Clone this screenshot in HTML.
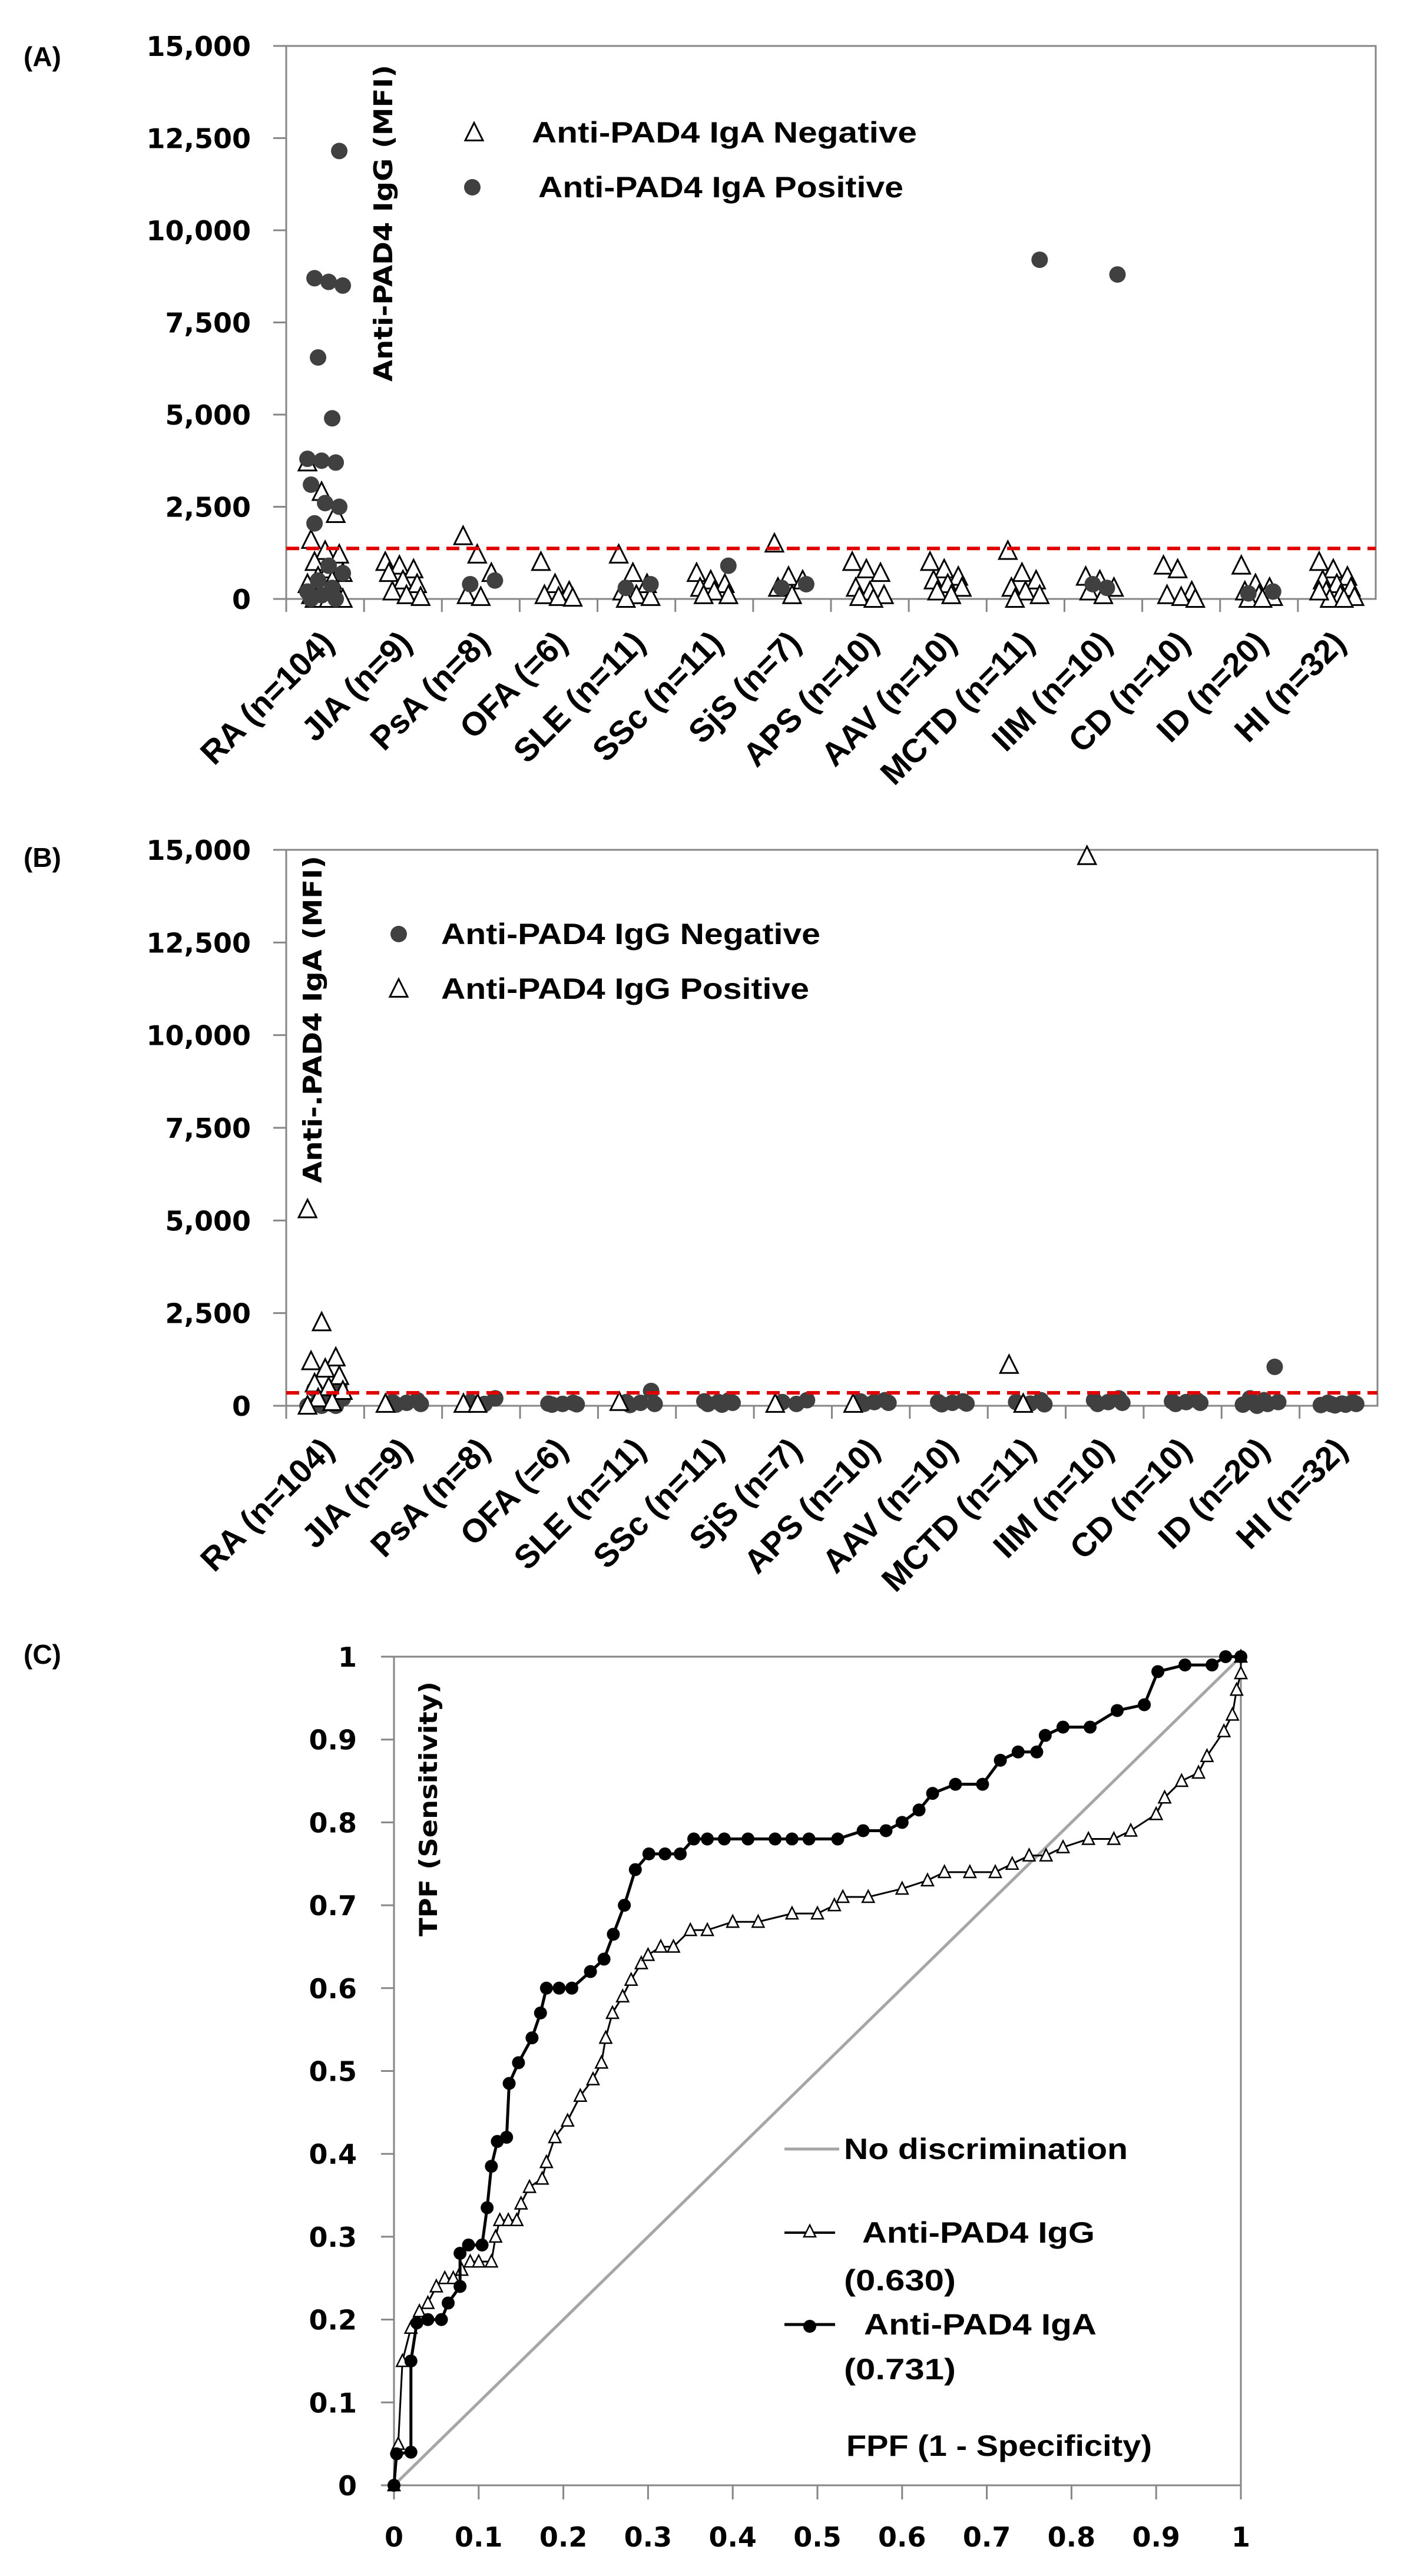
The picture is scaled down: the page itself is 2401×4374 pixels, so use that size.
<!DOCTYPE html>
<html><head><meta charset="utf-8"><style>
html,body{margin:0;padding:0;background:#fff;}
svg{display:block;}
text{font-family:"DejaVu Sans","Liberation Sans",sans-serif;}
.lab{font-family:"Liberation Sans",sans-serif;font-weight:bold;}
</style></head><body>
<svg id="fig" width="2401" height="4374" viewBox="0 0 2401 4374" xmlns="http://www.w3.org/2000/svg"></svg>
<script>
const categories=["RA (n=104)","JIA (n=9)","PsA (n=8)","OFA (=6)","SLE (n=11)","SSc (n=11)","SjS (n=7)","APS (n=10)","AAV (n=10)","MCTD (n=11)","IIM (n=10)","CD (n=10)","ID (n=20)","HI (n=32)"];
const yTicks=[0,2500,5000,7500,10000,12500,15000];
const yTickLabels=["0","2,500","5,000","7,500","10,000","12,500","15,000"];
// Panel A: anti-PAD4 IgG values
const aNeg=[[3700,2900,2300,1600,1300,1200,1000,800,700,600,500,400,300,200,100,50,0,0,0,0],[1000,900,800,700,500,400,200,100,50],[1700,1200,700,100,50],[1000,400,200,100,50,30],[1200,700,400,200,100,50,0],[700,500,400,300,200,100,100],[1500,600,500,300,100],[1000,800,700,300,200,100,50,0],[1000,800,600,500,400,300,200,100],[1300,700,500,300,200,100,0],[600,500,300,200,100],[900,800,200,100,50,0],[900,400,300,200,100,50,0,0],[1000,800,600,500,400,300,200,100,50,0,0,200]];
const aPos=[[12150,8700,8600,8500,6550,4900,3800,3750,3700,3100,2600,2500,2050,900,700,500,300,200,100,0,0],[],[500,400],[],[400,300],[900],[400,300],[],[],[9200],[8800,400,300],[],[200,150],[]];
const aCut=1370;
// Panel B: anti-PAD4 IgA values
const bNeg=[[500,450,300,200,100,50,0,0,0],[150,100,80,50,30],[200,100,50],[80,60,50,40,30],[400,100,80,50,20],[150,120,100,80,50,30],[150,100,50],[150,120,100,80,50],[120,100,80,60,40],[150,100,60,40],[200,150,100,80,50],[150,120,100,80,50],[1050,200,150,100,80,50,30,0],[100,80,60,50,40,30,20,10]];
const bPos=[[5300,2250,1300,1200,1000,800,600,500,400,200,100,0],[50],[50,50],[],[100],[],[50],[50],[],[1100,50],[14830],[],[],[]];
const bCut=350;
// Panel C: ROC curves (FPF, TPF)
const igaFPF=[0,0.003,0.02,0.02,0.027,0.04,0.056,0.064,0.078,0.078,0.088,0.104,0.11,0.115,0.122,0.133,0.136,0.147,0.163,0.173,0.18,0.195,0.21,0.232,0.248,0.259,0.272,0.285,0.301,0.32,0.338,0.354,0.37,0.39,0.418,0.45,0.47,0.49,0.524,0.554,0.581,0.6,0.62,0.636,0.663,0.695,0.716,0.737,0.759,0.769,0.79,0.822,0.854,0.886,0.902,0.934,0.966,0.982,1];
const igaTPF=[0,0.038,0.04,0.15,0.196,0.2,0.2,0.22,0.24,0.28,0.29,0.29,0.335,0.385,0.415,0.42,0.485,0.51,0.54,0.57,0.6,0.6,0.6,0.62,0.635,0.665,0.7,0.743,0.762,0.762,0.762,0.78,0.78,0.78,0.78,0.78,0.78,0.78,0.78,0.79,0.79,0.8,0.815,0.835,0.846,0.846,0.875,0.885,0.885,0.905,0.915,0.915,0.935,0.942,0.982,0.99,0.99,1,1];
const iggFPF=[0,0.005,0.01,0.02,0.03,0.04,0.05,0.06,0.07,0.08,0.09,0.1,0.115,0.12,0.125,0.135,0.145,0.15,0.16,0.175,0.18,0.19,0.205,0.22,0.235,0.245,0.25,0.258,0.27,0.28,0.292,0.3,0.315,0.33,0.35,0.37,0.4,0.43,0.47,0.5,0.52,0.53,0.56,0.6,0.63,0.65,0.68,0.71,0.73,0.75,0.77,0.79,0.82,0.85,0.87,0.9,0.91,0.93,0.95,0.96,0.98,0.99,0.995,1,1];
const iggTPF=[0,0.05,0.15,0.19,0.21,0.22,0.24,0.25,0.25,0.26,0.27,0.27,0.27,0.3,0.32,0.32,0.32,0.34,0.36,0.37,0.39,0.42,0.44,0.47,0.49,0.51,0.54,0.57,0.59,0.61,0.63,0.64,0.65,0.65,0.67,0.67,0.68,0.68,0.69,0.69,0.7,0.71,0.71,0.72,0.73,0.74,0.74,0.74,0.75,0.76,0.76,0.77,0.78,0.78,0.79,0.81,0.83,0.85,0.86,0.88,0.91,0.93,0.96,0.98,1];
const rocTicks=[0,0.1,0.2,0.3,0.4,0.5,0.6,0.7,0.8,0.9,1];
const rocTickLabels=["0","0.1","0.2","0.3","0.4","0.5","0.6","0.7","0.8","0.9","1"];

const NS="http://www.w3.org/2000/svg";
const svg=document.getElementById('fig');
function mk(tag,attrs,parent){const e=document.createElementNS(NS,tag);for(const k in attrs)e.setAttribute(k,attrs[k]);(parent||svg).appendChild(e);return e;}
function txt(str,attrs,parent){const t=mk('text',attrs,parent);t.textContent=str;return t;}
function tri(g,x,y,s,sw){return mk('path',{d:`M${x} ${y-s*0.55}L${x+s*0.5} ${y+s*0.45}L${x-s*0.5} ${y+s*0.45}Z`,fill:'#fff',stroke:'#000','stroke-width':sw},g);}

function scatterPanel(id,L,R,T,B,neg,pos,cut,negIsTri,panelLabel,labelY,title,titleX,titleY1,titleY2,legendItems){
  const g=mk('g',{});
  
  
  const yS=v=>B-(v/15000)*(B-T);
  const cw=(R-L)/categories.length;
  const xC=i=>L+cw*(i+0.5);
  const pl=txt(panelLabel,{x:40,y:labelY,'font-size':46,class:'lab'},g);
  
  
  const fr=mk('rect',{x:L,y:T,width:R-L,height:B-T,fill:'none',stroke:'#868686','stroke-width':3},g);
  
  
  yTicks.forEach((v,i)=>{
    mk('line',{x1:L-22,x2:L,y1:yS(v),y2:yS(v),stroke:'#868686','stroke-width':3},g);
    const t=txt(yTickLabels[i],{x:426,y:yS(v)+17,'text-anchor':'end','font-size':46,'font-weight':'bold'},g);
    
    
  });
  categories.forEach((c,i)=>{
    mk('line',{x1:L+cw*i,x2:L+cw*i,y1:B,y2:B+22,stroke:'#868686','stroke-width':3},g);
    const cx=xC(i)+18, cy=B+78;
    const t=txt(c,{x:cx,y:cy,'text-anchor':'end','font-size':56,class:'lab',transform:`rotate(-45 ${cx} ${cy})`},g);
    
    
  });
  const jit=k=>(((k*37)%11)-5)*6;
  function drawSet(vals,isTri){
    vals.forEach((arr,i)=>{arr.forEach((v,k)=>{
      const x=xC(i)+jit(k+(isTri?0:5)), y=yS(v);
      let m;
      if(isTri){m=tri(g,x,y,30,3);}
      else{m=mk('circle',{cx:x,cy:y,r:14,fill:'#404040'},g);}
      
      
    });});
  }
  if(negIsTri){drawSet(neg,true);drawSet(pos,false);}else{drawSet(neg,false);drawSet(pos,true);}
  const cl=mk('line',{x1:L,x2:R,y1:yS(cut),y2:yS(cut),stroke:'#e00000','stroke-width':6,'stroke-dasharray':'22 12'},g);
  
  
  const tt=txt(title,{x:titleX,y:titleY2,'font-size':44,'font-weight':'bold',textLength:titleY2-titleY1,lengthAdjust:'spacingAndGlyphs',transform:`rotate(-90 ${titleX} ${titleY2})`},g);
  
  
  legendItems.forEach(it=>{
    let m;
    if(it.tri){m=tri(g,it.mx,it.my,30,3);}else{m=mk('circle',{cx:it.mx,cy:it.my,r:14,fill:'#404040'},g);}
    
    
    const t=txt(it.text,{x:it.tx,y:it.my+17,'font-size':50,class:'lab',textLength:it.tw,lengthAdjust:'spacingAndGlyphs'},g);
    
    
  });
}

scatterPanel('panel-a-scatter',486,2336,78,1017,aNeg,aPos,aCut,true,'(A)',112,'Anti-PAD4 IgG (MFI)',666,110,648,
 [{tri:true,mx:805,my:225,text:'Anti-PAD4 IgA Negative',tx:903,tw:654},{tri:false,mx:802,my:318,text:'Anti-PAD4 IgA Positive',tx:914,tw:620}]);
scatterPanel('panel-b-scatter',486,2339,1443,2387,bNeg,bPos,bCut,false,'(B)',1472,'Anti-.PAD4 IgA (MFI)',546,1453,2009,
 [{tri:false,mx:677,my:1586,text:'Anti-PAD4 IgG Negative',tx:749,tw:644},{tri:true,mx:677,my:1679,text:'Anti-PAD4 IgG Positive',tx:749,tw:625}]);

(function(){
  const L=669,R=2107,T=2813,B=4220;
  const g=mk('g',{});
  
  
  const xS=v=>L+v*(R-L), yS=v=>B-v*(B-T);
  const pl=txt('(C)',{x:40,y:2825,'font-size':46,class:'lab'},g);
  
  
  const fr=mk('rect',{x:L,y:T,width:R-L,height:B-T,fill:'none',stroke:'#868686','stroke-width':3},g);
  
  
  rocTicks.forEach((v,i)=>{
    mk('line',{x1:L-22,x2:L,y1:yS(v),y2:yS(v),stroke:'#868686','stroke-width':3},g);
    mk('line',{x1:xS(v),x2:xS(v),y1:B,y2:B+24,stroke:'#868686','stroke-width':3},g);
    const t=txt(rocTickLabels[i],{x:606,y:yS(v)+17,'text-anchor':'end','font-size':46,'font-weight':'bold'},g);
    
    
    const t2=txt(rocTickLabels[i],{x:xS(v),y:4324,'text-anchor':'middle','font-size':46,'font-weight':'bold'},g);
    
    
  });
  const d=mk('line',{x1:xS(0),y1:yS(0),x2:xS(1),y2:yS(1),stroke:'#a6a6a6','stroke-width':5},g);
  
  
  const gl=mk('polyline',{points:iggFPF.map((x,i)=>xS(x)+','+yS(iggTPF[i])).join(' '),fill:'none',stroke:'#000','stroke-width':3},g);
  
  
  iggFPF.forEach((x,i)=>{const m=tri(g,xS(x),yS(iggTPF[i]),20,2.5);
    
    });
  const al=mk('polyline',{points:igaFPF.map((x,i)=>xS(x)+','+yS(igaTPF[i])).join(' '),fill:'none',stroke:'#000','stroke-width':5},g);
  
  
  igaFPF.forEach((x,i)=>{const m=mk('circle',{cx:xS(x),cy:yS(igaTPF[i]),r:11,fill:'#000'},g);
    
    });
  const yt=txt('TPF (Sensitivity)',{x:742,y:3288,'font-size':42,'font-weight':'bold',textLength:433,lengthAdjust:'spacingAndGlyphs',transform:'rotate(-90 742 3288)'},g);
  
  
  const xt=txt('FPF (1 - Specificity)',{x:1437,y:4170,'font-size':50,class:'lab',textLength:519,lengthAdjust:'spacingAndGlyphs'},g);
  
  
  const l1=mk('line',{x1:1332,x2:1425,y1:3649,y2:3649,stroke:'#a6a6a6','stroke-width':5},g);
  
  
  const t1=txt('No discrimination',{x:1433,y:3666,'font-size':50,class:'lab',textLength:482,lengthAdjust:'spacingAndGlyphs'},g);
  
  
  const l2=mk('line',{x1:1332,x2:1418,y1:3791,y2:3791,stroke:'#000','stroke-width':4},g);
  
  
  const m2=tri(g,1375,3789,20,2.5);
  
  
  const t2=txt('Anti-PAD4 IgG',{x:1464,y:3808,'font-size':50,class:'lab',textLength:395,lengthAdjust:'spacingAndGlyphs'},g);
  
  
  const t3=txt('(0.630)',{x:1433,y:3889,'font-size':50,class:'lab',textLength:190,lengthAdjust:'spacingAndGlyphs'},g);
  
  
  const l3=mk('line',{x1:1332,x2:1418,y1:3947,y2:3947,stroke:'#000','stroke-width':5},g);
  
  
  const m3=mk('circle',{cx:1375,cy:3950,r:11,fill:'#000'},g);
  
  
  const t4=txt('Anti-PAD4 IgA',{x:1467,y:3964,'font-size':50,class:'lab',textLength:395,lengthAdjust:'spacingAndGlyphs'},g);
  
  
  const t5=txt('(0.731)',{x:1433,y:4040,'font-size':50,class:'lab',textLength:190,lengthAdjust:'spacingAndGlyphs'},g);
  
  
})();
</script>
</body></html>
